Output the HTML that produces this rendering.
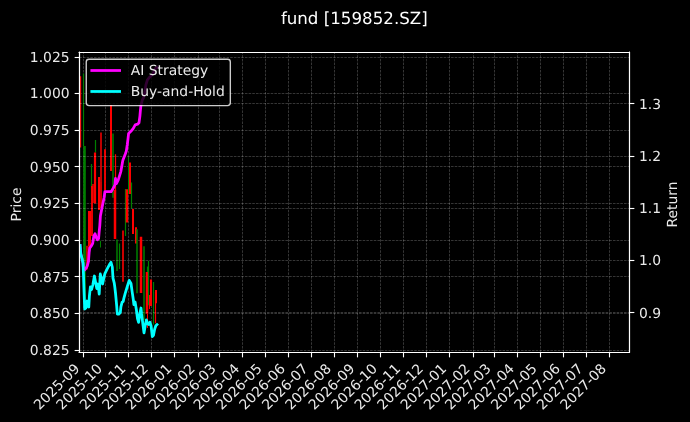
<!DOCTYPE html><html><head><meta charset="utf-8"><style>html,body{margin:0;padding:0;background:#000;width:690px;height:422px;overflow:hidden}svg{display:block;will-change:transform} text{text-rendering:geometricPrecision}</style></head><body><svg width="690" height="422" viewBox="0 0 496.8 303.84" version="1.1"> <defs> <style type="text/css">*{stroke-linejoin: round; stroke-linecap: butt}</style> </defs> <g id="figure_1"> <g id="patch_1"> <path d="M 0 303.84  L 496.8 303.84  L 496.8 0  L 0 0  z "/> </g> <g id="axes_1"> <g id="patch_2"> <path d="M 57.096 253.584  L 453.096 253.584  L 453.096 37.656  L 57.096 37.656  z "/> </g> <g id="matplotlib.axis_1"> <g id="xtick_1"> <g id="line2d_1"> <path d="M 60.1200 253.584 L 60.1200 37.656 " clip-path="url(#pfc3953edeb)" style="fill: none; stroke-dasharray: 1.85,0.8; stroke-dashoffset: 0; stroke: #ffffff; stroke-opacity: 0.3; stroke-width: 0.5"/> </g> <g id="line2d_2"> <g> <path d="M 0 0  L 0 3.5  " transform="translate(60.1200 253.8000)" style="fill: #ffffff; stroke: #ffffff; stroke-width: 0.8"/> </g> </g> <g id="text_1"> <text style="font-size: 10px; font-family: 'DejaVu Sans', sans-serif; fill: #eaeaea" transform="translate(28.403969 295.501817) rotate(-45)">2025-09</text> </g> </g> <g id="xtick_2"> <g id="line2d_3"> <path d="M 75.9600 253.584 L 75.9600 37.656 " clip-path="url(#pfc3953edeb)" style="fill: none; stroke-dasharray: 1.85,0.8; stroke-dashoffset: 0; stroke: #ffffff; stroke-opacity: 0.3; stroke-width: 0.5"/> </g> <g id="line2d_4"> <g> <path d="M 0 0  L 0 3.5  " transform="translate(75.9600 253.8000)" style="fill: #ffffff; stroke: #ffffff; stroke-width: 0.8"/> </g> </g> <g id="text_2"> <text style="font-size: 10px; font-family: 'DejaVu Sans', sans-serif; fill: #eaeaea" transform="translate(44.673305 295.501817) rotate(-45)">2025-10</text> </g> </g> <g id="xtick_3"> <g id="line2d_5"> <path d="M 92.5200 253.584 L 92.5200 37.656 " clip-path="url(#pfc3953edeb)" style="fill: none; stroke-dasharray: 1.85,0.8; stroke-dashoffset: 0; stroke: #ffffff; stroke-opacity: 0.3; stroke-width: 0.5"/> </g> <g id="line2d_6"> <g> <path d="M 0 0  L 0 3.5  " transform="translate(92.5200 253.8000)" style="fill: #ffffff; stroke: #ffffff; stroke-width: 0.8"/> </g> </g> <g id="text_3"> <text style="font-size: 10px; font-family: 'DejaVu Sans', sans-serif; fill: #eaeaea" transform="translate(61.484952 295.501817) rotate(-45)">2025-11</text> </g> </g> <g id="xtick_4"> <g id="line2d_7"> <path d="M 109.0800 253.584 L 109.0800 37.656 " clip-path="url(#pfc3953edeb)" style="fill: none; stroke-dasharray: 1.85,0.8; stroke-dashoffset: 0; stroke: #ffffff; stroke-opacity: 0.3; stroke-width: 0.5"/> </g> <g id="line2d_8"> <g> <path d="M 0 0  L 0 3.5  " transform="translate(109.0800 253.8000)" style="fill: #ffffff; stroke: #ffffff; stroke-width: 0.8"/> </g> </g> <g id="text_4"> <text style="font-size: 10px; font-family: 'DejaVu Sans', sans-serif; fill: #eaeaea" transform="translate(77.754288 295.501817) rotate(-45)">2025-12</text> </g> </g> <g id="xtick_5"> <g id="line2d_9"> <path d="M 125.6400 253.584 L 125.6400 37.656 " clip-path="url(#pfc3953edeb)" style="fill: none; stroke-dasharray: 1.85,0.8; stroke-dashoffset: 0; stroke: #ffffff; stroke-opacity: 0.3; stroke-width: 0.5"/> </g> <g id="line2d_10"> <g> <path d="M 0 0  L 0 3.5  " transform="translate(125.6400 253.8000)" style="fill: #ffffff; stroke: #ffffff; stroke-width: 0.8"/> </g> </g> <g id="text_5"> <text style="font-size: 10px; font-family: 'DejaVu Sans', sans-serif; fill: #eaeaea" transform="translate(94.565935 295.501817) rotate(-45)">2026-01</text> </g> </g> <g id="xtick_6"> <g id="line2d_11"> <path d="M 142.9200 253.584 L 142.9200 37.656 " clip-path="url(#pfc3953edeb)" style="fill: none; stroke-dasharray: 1.85,0.8; stroke-dashoffset: 0; stroke: #ffffff; stroke-opacity: 0.3; stroke-width: 0.5"/> </g> <g id="line2d_12"> <g> <path d="M 0 0  L 0 3.5  " transform="translate(142.9200 253.8000)" style="fill: #ffffff; stroke: #ffffff; stroke-width: 0.8"/> </g> </g> <g id="text_6"> <text style="font-size: 10px; font-family: 'DejaVu Sans', sans-serif; fill: #eaeaea" transform="translate(111.377582 295.501817) rotate(-45)">2026-02</text> </g> </g> <g id="xtick_7"> <g id="line2d_13"> <path d="M 158.0400 253.584 L 158.0400 37.656 " clip-path="url(#pfc3953edeb)" style="fill: none; stroke-dasharray: 1.85,0.8; stroke-dashoffset: 0; stroke: #ffffff; stroke-opacity: 0.3; stroke-width: 0.5"/> </g> <g id="line2d_14"> <g> <path d="M 0 0  L 0 3.5  " transform="translate(158.0400 253.8000)" style="fill: #ffffff; stroke: #ffffff; stroke-width: 0.8"/> </g> </g> <g id="text_7"> <text style="font-size: 10px; font-family: 'DejaVu Sans', sans-serif; fill: #eaeaea" transform="translate(126.562296 295.501817) rotate(-45)">2026-03</text> </g> </g> <g id="xtick_8"> <g id="line2d_15"> <path d="M 174.6000 253.584 L 174.6000 37.656 " clip-path="url(#pfc3953edeb)" style="fill: none; stroke-dasharray: 1.85,0.8; stroke-dashoffset: 0; stroke: #ffffff; stroke-opacity: 0.3; stroke-width: 0.5"/> </g> <g id="line2d_16"> <g> <path d="M 0 0  L 0 3.5  " transform="translate(174.6000 253.8000)" style="fill: #ffffff; stroke: #ffffff; stroke-width: 0.8"/> </g> </g> <g id="text_8"> <text style="font-size: 10px; font-family: 'DejaVu Sans', sans-serif; fill: #eaeaea" transform="translate(143.373943 295.501817) rotate(-45)">2026-04</text> </g> </g> <g id="xtick_9"> <g id="line2d_17"> <path d="M 191.1600 253.584 L 191.1600 37.656 " clip-path="url(#pfc3953edeb)" style="fill: none; stroke-dasharray: 1.85,0.8; stroke-dashoffset: 0; stroke: #ffffff; stroke-opacity: 0.3; stroke-width: 0.5"/> </g> <g id="line2d_18"> <g> <path d="M 0 0  L 0 3.5  " transform="translate(191.1600 253.8000)" style="fill: #ffffff; stroke: #ffffff; stroke-width: 0.8"/> </g> </g> <g id="text_9"> <text style="font-size: 10px; font-family: 'DejaVu Sans', sans-serif; fill: #eaeaea" transform="translate(159.643279 295.501817) rotate(-45)">2026-05</text> </g> </g> <g id="xtick_10"> <g id="line2d_19"> <path d="M 207.7200 253.584 L 207.7200 37.656 " clip-path="url(#pfc3953edeb)" style="fill: none; stroke-dasharray: 1.85,0.8; stroke-dashoffset: 0; stroke: #ffffff; stroke-opacity: 0.3; stroke-width: 0.5"/> </g> <g id="line2d_20"> <g> <path d="M 0 0  L 0 3.5  " transform="translate(207.7200 253.8000)" style="fill: #ffffff; stroke: #ffffff; stroke-width: 0.8"/> </g> </g> <g id="text_10"> <text style="font-size: 10px; font-family: 'DejaVu Sans', sans-serif; fill: #eaeaea" transform="translate(176.454926 295.501817) rotate(-45)">2026-06</text> </g> </g> <g id="xtick_11"> <g id="line2d_21"> <path d="M 224.2800 253.584 L 224.2800 37.656 " clip-path="url(#pfc3953edeb)" style="fill: none; stroke-dasharray: 1.85,0.8; stroke-dashoffset: 0; stroke: #ffffff; stroke-opacity: 0.3; stroke-width: 0.5"/> </g> <g id="line2d_22"> <g> <path d="M 0 0  L 0 3.5  " transform="translate(224.2800 253.8000)" style="fill: #ffffff; stroke: #ffffff; stroke-width: 0.8"/> </g> </g> <g id="text_11"> <text style="font-size: 10px; font-family: 'DejaVu Sans', sans-serif; fill: #eaeaea" transform="translate(192.724262 295.501817) rotate(-45)">2026-07</text> </g> </g> <g id="xtick_12"> <g id="line2d_23"> <path d="M 240.8400 253.584 L 240.8400 37.656 " clip-path="url(#pfc3953edeb)" style="fill: none; stroke-dasharray: 1.85,0.8; stroke-dashoffset: 0; stroke: #ffffff; stroke-opacity: 0.3; stroke-width: 0.5"/> </g> <g id="line2d_24"> <g> <path d="M 0 0  L 0 3.5  " transform="translate(240.8400 253.8000)" style="fill: #ffffff; stroke: #ffffff; stroke-width: 0.8"/> </g> </g> <g id="text_12"> <text style="font-size: 10px; font-family: 'DejaVu Sans', sans-serif; fill: #eaeaea" transform="translate(209.53591 295.501817) rotate(-45)">2026-08</text> </g> </g> <g id="xtick_13"> <g id="line2d_25"> <path d="M 257.4000 253.584 L 257.4000 37.656 " clip-path="url(#pfc3953edeb)" style="fill: none; stroke-dasharray: 1.85,0.8; stroke-dashoffset: 0; stroke: #ffffff; stroke-opacity: 0.3; stroke-width: 0.5"/> </g> <g id="line2d_26"> <g> <path d="M 0 0  L 0 3.5  " transform="translate(257.4000 253.8000)" style="fill: #ffffff; stroke: #ffffff; stroke-width: 0.8"/> </g> </g> <g id="text_13"> <text style="font-size: 10px; font-family: 'DejaVu Sans', sans-serif; fill: #eaeaea" transform="translate(226.347557 295.501817) rotate(-45)">2026-09</text> </g> </g> <g id="xtick_14"> <g id="line2d_27"> <path d="M 273.9600 253.584 L 273.9600 37.656 " clip-path="url(#pfc3953edeb)" style="fill: none; stroke-dasharray: 1.85,0.8; stroke-dashoffset: 0; stroke: #ffffff; stroke-opacity: 0.3; stroke-width: 0.5"/> </g> <g id="line2d_28"> <g> <path d="M 0 0  L 0 3.5  " transform="translate(273.9600 253.8000)" style="fill: #ffffff; stroke: #ffffff; stroke-width: 0.8"/> </g> </g> <g id="text_14"> <text style="font-size: 10px; font-family: 'DejaVu Sans', sans-serif; fill: #eaeaea" transform="translate(242.616893 295.501817) rotate(-45)">2026-10</text> </g> </g> <g id="xtick_15"> <g id="line2d_29"> <path d="M 290.5200 253.584 L 290.5200 37.656 " clip-path="url(#pfc3953edeb)" style="fill: none; stroke-dasharray: 1.85,0.8; stroke-dashoffset: 0; stroke: #ffffff; stroke-opacity: 0.3; stroke-width: 0.5"/> </g> <g id="line2d_30"> <g> <path d="M 0 0  L 0 3.5  " transform="translate(290.5200 253.8000)" style="fill: #ffffff; stroke: #ffffff; stroke-width: 0.8"/> </g> </g> <g id="text_15"> <text style="font-size: 10px; font-family: 'DejaVu Sans', sans-serif; fill: #eaeaea" transform="translate(259.42854 295.501817) rotate(-45)">2026-11</text> </g> </g> <g id="xtick_16"> <g id="line2d_31"> <path d="M 307.0800 253.584 L 307.0800 37.656 " clip-path="url(#pfc3953edeb)" style="fill: none; stroke-dasharray: 1.85,0.8; stroke-dashoffset: 0; stroke: #ffffff; stroke-opacity: 0.3; stroke-width: 0.5"/> </g> <g id="line2d_32"> <g> <path d="M 0 0  L 0 3.5  " transform="translate(307.0800 253.8000)" style="fill: #ffffff; stroke: #ffffff; stroke-width: 0.8"/> </g> </g> <g id="text_16"> <text style="font-size: 10px; font-family: 'DejaVu Sans', sans-serif; fill: #eaeaea" transform="translate(275.697876 295.501817) rotate(-45)">2026-12</text> </g> </g> <g id="xtick_17"> <g id="line2d_33"> <path d="M 323.6400 253.584 L 323.6400 37.656 " clip-path="url(#pfc3953edeb)" style="fill: none; stroke-dasharray: 1.85,0.8; stroke-dashoffset: 0; stroke: #ffffff; stroke-opacity: 0.3; stroke-width: 0.5"/> </g> <g id="line2d_34"> <g> <path d="M 0 0  L 0 3.5  " transform="translate(323.6400 253.8000)" style="fill: #ffffff; stroke: #ffffff; stroke-width: 0.8"/> </g> </g> <g id="text_17"> <text style="font-size: 10px; font-family: 'DejaVu Sans', sans-serif; fill: #eaeaea" transform="translate(292.509523 295.501817) rotate(-45)">2027-01</text> </g> </g> <g id="xtick_18"> <g id="line2d_35"> <path d="M 340.9200 253.584 L 340.9200 37.656 " clip-path="url(#pfc3953edeb)" style="fill: none; stroke-dasharray: 1.85,0.8; stroke-dashoffset: 0; stroke: #ffffff; stroke-opacity: 0.3; stroke-width: 0.5"/> </g> <g id="line2d_36"> <g> <path d="M 0 0  L 0 3.5  " transform="translate(340.9200 253.8000)" style="fill: #ffffff; stroke: #ffffff; stroke-width: 0.8"/> </g> </g> <g id="text_18"> <text style="font-size: 10px; font-family: 'DejaVu Sans', sans-serif; fill: #eaeaea" transform="translate(309.32117 295.501817) rotate(-45)">2027-02</text> </g> </g> <g id="xtick_19"> <g id="line2d_37"> <path d="M 356.0400 253.584 L 356.0400 37.656 " clip-path="url(#pfc3953edeb)" style="fill: none; stroke-dasharray: 1.85,0.8; stroke-dashoffset: 0; stroke: #ffffff; stroke-opacity: 0.3; stroke-width: 0.5"/> </g> <g id="line2d_38"> <g> <path d="M 0 0  L 0 3.5  " transform="translate(356.0400 253.8000)" style="fill: #ffffff; stroke: #ffffff; stroke-width: 0.8"/> </g> </g> <g id="text_19"> <text style="font-size: 10px; font-family: 'DejaVu Sans', sans-serif; fill: #eaeaea" transform="translate(324.505884 295.501817) rotate(-45)">2027-03</text> </g> </g> <g id="xtick_20"> <g id="line2d_39"> <path d="M 372.6000 253.584 L 372.6000 37.656 " clip-path="url(#pfc3953edeb)" style="fill: none; stroke-dasharray: 1.85,0.8; stroke-dashoffset: 0; stroke: #ffffff; stroke-opacity: 0.3; stroke-width: 0.5"/> </g> <g id="line2d_40"> <g> <path d="M 0 0  L 0 3.5  " transform="translate(372.6000 253.8000)" style="fill: #ffffff; stroke: #ffffff; stroke-width: 0.8"/> </g> </g> <g id="text_20"> <text style="font-size: 10px; font-family: 'DejaVu Sans', sans-serif; fill: #eaeaea" transform="translate(341.317531 295.501817) rotate(-45)">2027-04</text> </g> </g> <g id="xtick_21"> <g id="line2d_41"> <path d="M 389.1600 253.584 L 389.1600 37.656 " clip-path="url(#pfc3953edeb)" style="fill: none; stroke-dasharray: 1.85,0.8; stroke-dashoffset: 0; stroke: #ffffff; stroke-opacity: 0.3; stroke-width: 0.5"/> </g> <g id="line2d_42"> <g> <path d="M 0 0  L 0 3.5  " transform="translate(389.1600 253.8000)" style="fill: #ffffff; stroke: #ffffff; stroke-width: 0.8"/> </g> </g> <g id="text_21"> <text style="font-size: 10px; font-family: 'DejaVu Sans', sans-serif; fill: #eaeaea" transform="translate(357.586867 295.501817) rotate(-45)">2027-05</text> </g> </g> <g id="xtick_22"> <g id="line2d_43"> <path d="M 405.7200 253.584 L 405.7200 37.656 " clip-path="url(#pfc3953edeb)" style="fill: none; stroke-dasharray: 1.85,0.8; stroke-dashoffset: 0; stroke: #ffffff; stroke-opacity: 0.3; stroke-width: 0.5"/> </g> <g id="line2d_44"> <g> <path d="M 0 0  L 0 3.5  " transform="translate(405.7200 253.8000)" style="fill: #ffffff; stroke: #ffffff; stroke-width: 0.8"/> </g> </g> <g id="text_22"> <text style="font-size: 10px; font-family: 'DejaVu Sans', sans-serif; fill: #eaeaea" transform="translate(374.398514 295.501817) rotate(-45)">2027-06</text> </g> </g> <g id="xtick_23"> <g id="line2d_45"> <path d="M 422.2800 253.584 L 422.2800 37.656 " clip-path="url(#pfc3953edeb)" style="fill: none; stroke-dasharray: 1.85,0.8; stroke-dashoffset: 0; stroke: #ffffff; stroke-opacity: 0.3; stroke-width: 0.5"/> </g> <g id="line2d_46"> <g> <path d="M 0 0  L 0 3.5  " transform="translate(422.2800 253.8000)" style="fill: #ffffff; stroke: #ffffff; stroke-width: 0.8"/> </g> </g> <g id="text_23"> <text style="font-size: 10px; font-family: 'DejaVu Sans', sans-serif; fill: #eaeaea" transform="translate(390.66785 295.501817) rotate(-45)">2027-07</text> </g> </g> <g id="xtick_24"> <g id="line2d_47"> <path d="M 438.8400 253.584 L 438.8400 37.656 " clip-path="url(#pfc3953edeb)" style="fill: none; stroke-dasharray: 1.85,0.8; stroke-dashoffset: 0; stroke: #ffffff; stroke-opacity: 0.3; stroke-width: 0.5"/> </g> <g id="line2d_48"> <g> <path d="M 0 0  L 0 3.5  " transform="translate(438.8400 253.8000)" style="fill: #ffffff; stroke: #ffffff; stroke-width: 0.8"/> </g> </g> <g id="text_24"> <text style="font-size: 10px; font-family: 'DejaVu Sans', sans-serif; fill: #eaeaea" transform="translate(407.479498 295.501817) rotate(-45)">2027-08</text> </g> </g> </g> <g id="matplotlib.axis_2"> <g id="ytick_1"> <g id="line2d_49"> <path d="M 57.096 252.3600 L 453.096 252.3600 " clip-path="url(#pfc3953edeb)" style="fill: none; stroke-dasharray: 1.85,0.8; stroke-dashoffset: 0; stroke: #ffffff; stroke-opacity: 0.3; stroke-width: 0.5"/> </g> <g id="line2d_50"> <g> <path d="M 0 0  L -3.5 0  " transform="translate(57.2400 252.3600)" style="fill: #ffffff; stroke: #ffffff; stroke-width: 0.8"/> </g> </g> <g id="text_25"> <text style="font-size: 10px; font-family: 'DejaVu Sans', sans-serif; text-anchor: end; fill: #eaeaea" x="50.096" y="255.486019" transform="rotate(-0 50.096 255.486019)">0.825</text> </g> </g> <g id="ytick_2"> <g id="line2d_51"> <path d="M 57.096 225.7200 L 453.096 225.7200 " clip-path="url(#pfc3953edeb)" style="fill: none; stroke-dasharray: 1.85,0.8; stroke-dashoffset: 0; stroke: #ffffff; stroke-opacity: 0.3; stroke-width: 0.5"/> </g> <g id="line2d_52"> <g> <path d="M 0 0  L -3.5 0  " transform="translate(57.2400 225.7200)" style="fill: #ffffff; stroke: #ffffff; stroke-width: 0.8"/> </g> </g> <g id="text_26"> <text style="font-size: 10px; font-family: 'DejaVu Sans', sans-serif; text-anchor: end; fill: #eaeaea" x="50.096" y="229.116019" transform="rotate(-0 50.096 229.116019)">0.850</text> </g> </g> <g id="ytick_3"> <g id="line2d_53"> <path d="M 57.096 199.0800 L 453.096 199.0800 " clip-path="url(#pfc3953edeb)" style="fill: none; stroke-dasharray: 1.85,0.8; stroke-dashoffset: 0; stroke: #ffffff; stroke-opacity: 0.3; stroke-width: 0.5"/> </g> <g id="line2d_54"> <g> <path d="M 0 0  L -3.5 0  " transform="translate(57.2400 199.0800)" style="fill: #ffffff; stroke: #ffffff; stroke-width: 0.8"/> </g> </g> <g id="text_27"> <text style="font-size: 10px; font-family: 'DejaVu Sans', sans-serif; text-anchor: end; fill: #eaeaea" x="50.096" y="202.746019" transform="rotate(-0 50.096 202.746019)">0.875</text> </g> </g> <g id="ytick_4"> <g id="line2d_55"> <path d="M 57.096 173.1600 L 453.096 173.1600 " clip-path="url(#pfc3953edeb)" style="fill: none; stroke-dasharray: 1.85,0.8; stroke-dashoffset: 0; stroke: #ffffff; stroke-opacity: 0.3; stroke-width: 0.5"/> </g> <g id="line2d_56"> <g> <path d="M 0 0  L -3.5 0  " transform="translate(57.2400 173.1600)" style="fill: #ffffff; stroke: #ffffff; stroke-width: 0.8"/> </g> </g> <g id="text_28"> <text style="font-size: 10px; font-family: 'DejaVu Sans', sans-serif; text-anchor: end; fill: #eaeaea" x="50.096" y="176.376019" transform="rotate(-0 50.096 176.376019)">0.900</text> </g> </g> <g id="ytick_5"> <g id="line2d_57"> <path d="M 57.096 146.5200 L 453.096 146.5200 " clip-path="url(#pfc3953edeb)" style="fill: none; stroke-dasharray: 1.85,0.8; stroke-dashoffset: 0; stroke: #ffffff; stroke-opacity: 0.3; stroke-width: 0.5"/> </g> <g id="line2d_58"> <g> <path d="M 0 0  L -3.5 0  " transform="translate(57.2400 146.5200)" style="fill: #ffffff; stroke: #ffffff; stroke-width: 0.8"/> </g> </g> <g id="text_29"> <text style="font-size: 10px; font-family: 'DejaVu Sans', sans-serif; text-anchor: end; fill: #eaeaea" x="50.096" y="150.006019" transform="rotate(-0 50.096 150.006019)">0.925</text> </g> </g> <g id="ytick_6"> <g id="line2d_59"> <path d="M 57.096 119.8800 L 453.096 119.8800 " clip-path="url(#pfc3953edeb)" style="fill: none; stroke-dasharray: 1.85,0.8; stroke-dashoffset: 0; stroke: #ffffff; stroke-opacity: 0.3; stroke-width: 0.5"/> </g> <g id="line2d_60"> <g> <path d="M 0 0  L -3.5 0  " transform="translate(57.2400 119.8800)" style="fill: #ffffff; stroke: #ffffff; stroke-width: 0.8"/> </g> </g> <g id="text_30"> <text style="font-size: 10px; font-family: 'DejaVu Sans', sans-serif; text-anchor: end; fill: #eaeaea" x="50.096" y="123.636019" transform="rotate(-0 50.096 123.636019)">0.950</text> </g> </g> <g id="ytick_7"> <g id="line2d_61"> <path d="M 57.096 93.9600 L 453.096 93.9600 " clip-path="url(#pfc3953edeb)" style="fill: none; stroke-dasharray: 1.85,0.8; stroke-dashoffset: 0; stroke: #ffffff; stroke-opacity: 0.3; stroke-width: 0.5"/> </g> <g id="line2d_62"> <g> <path d="M 0 0  L -3.5 0  " transform="translate(57.2400 93.9600)" style="fill: #ffffff; stroke: #ffffff; stroke-width: 0.8"/> </g> </g> <g id="text_31"> <text style="font-size: 10px; font-family: 'DejaVu Sans', sans-serif; text-anchor: end; fill: #eaeaea" x="50.096" y="97.266019" transform="rotate(-0 50.096 97.266019)">0.975</text> </g> </g> <g id="ytick_8"> <g id="line2d_63"> <path d="M 57.096 67.3200 L 453.096 67.3200 " clip-path="url(#pfc3953edeb)" style="fill: none; stroke-dasharray: 1.85,0.8; stroke-dashoffset: 0; stroke: #ffffff; stroke-opacity: 0.3; stroke-width: 0.5"/> </g> <g id="line2d_64"> <g> <path d="M 0 0  L -3.5 0  " transform="translate(57.2400 67.3200)" style="fill: #ffffff; stroke: #ffffff; stroke-width: 0.8"/> </g> </g> <g id="text_32"> <text style="font-size: 10px; font-family: 'DejaVu Sans', sans-serif; text-anchor: end; fill: #eaeaea" x="50.096" y="70.896019" transform="rotate(-0 50.096 70.896019)">1.000</text> </g> </g> <g id="ytick_9"> <g id="line2d_65"> <path d="M 57.096 41.4000 L 453.096 41.4000 " clip-path="url(#pfc3953edeb)" style="fill: none; stroke-dasharray: 1.85,0.8; stroke-dashoffset: 0; stroke: #ffffff; stroke-opacity: 0.3; stroke-width: 0.5"/> </g> <g id="line2d_66"> <g> <path d="M 0 0  L -3.5 0  " transform="translate(57.2400 41.4000)" style="fill: #ffffff; stroke: #ffffff; stroke-width: 0.8"/> </g> </g> <g id="text_33"> <text style="font-size: 10px; font-family: 'DejaVu Sans', sans-serif; text-anchor: end; fill: #eaeaea" x="50.096" y="44.526019" transform="rotate(-0 50.096 44.526019)">1.025</text> </g> </g> <g id="text_34"> <text style="font-size: 10px; font-family: 'DejaVu Sans', sans-serif; text-anchor: middle; fill: #eaeaea" x="15.388187" y="147.204" transform="rotate(-90 15.388187 147.204)">Price</text> </g> </g> <g id="LineCollection_1"> <path d="M 57.9600 106.2 L 57.9600 54.936 " clip-path="url(#pfc3953edeb)" style="fill: none; stroke: #ff0000; stroke-width: 1.008"/> </g> <g id="LineCollection_2"> <path d="M 60.1200 105.12 L 60.1200 52.92 " clip-path="url(#pfc3953edeb)" style="fill: none; stroke: #008000; stroke-width: 0.864"/> </g> <g id="LineCollection_3"> <path d="M 60.8400 216 L 60.8400 105.12 " clip-path="url(#pfc3953edeb)" style="fill: none; stroke: #008000; stroke-width: 1.872"/> </g> <g id="LineCollection_4"> <path d="M 62.6400 193.968 L 62.6400 176.904 " clip-path="url(#pfc3953edeb)" style="fill: none; stroke: #ff0000; stroke-width: 1.08"/> </g> <g id="LineCollection_5"> <path d="M 64.4400 177.12 L 64.4400 151.92 " clip-path="url(#pfc3953edeb)" style="fill: none; stroke: #ff0000; stroke-width: 2.16"/> </g> <g id="LineCollection_6"> <path d="M 64.0800 188.64 L 64.0800 177.12 " clip-path="url(#pfc3953edeb)" style="fill: none; stroke: #ff0000; stroke-width: 1.08"/> </g> <g id="LineCollection_7"> <path d="M 65.8800 144 L 65.8800 118.08 " clip-path="url(#pfc3953edeb)" style="fill: none; stroke: #008000; stroke-width: 0.864"/> </g> <g id="LineCollection_8"> <path d="M 66.2400 169.92 L 66.2400 133.92 " clip-path="url(#pfc3953edeb)" style="fill: none; stroke: #ff0000; stroke-width: 1.296"/> </g> <g id="LineCollection_9"> <path d="M 66.9600 146.16 L 66.9600 132.48 " clip-path="url(#pfc3953edeb)" style="fill: none; stroke: #ff0000; stroke-width: 1.08"/> </g> <g id="LineCollection_10"> <path d="M 68.7600 109.8 L 68.7600 100.8 " clip-path="url(#pfc3953edeb)" style="fill: none; stroke: #008000; stroke-width: 0.864"/> </g> <g id="LineCollection_11"> <path d="M 68.4000 146.448 L 68.4000 109.8 " clip-path="url(#pfc3953edeb)" style="fill: none; stroke: #ff0000; stroke-width: 1.584"/> </g> <g id="LineCollection_12"> <path d="M 71.2800 151.2 L 71.2800 127.44 " clip-path="url(#pfc3953edeb)" style="fill: none; stroke: #ff0000; stroke-width: 1.44"/> </g> <g id="LineCollection_13"> <path d="M 72.7200 131.04 L 72.7200 95.4 " clip-path="url(#pfc3953edeb)" style="fill: none; stroke: #ff0000; stroke-width: 1.08"/> </g> <g id="LineCollection_14"> <path d="M 72.7200 149.76 L 72.7200 131.04 " clip-path="url(#pfc3953edeb)" style="fill: none; stroke: #ff0000; stroke-width: 1.152"/> </g> <g id="LineCollection_15"> <path d="M 75.6000 137.232 L 75.6000 107.424 " clip-path="url(#pfc3953edeb)" style="fill: none; stroke: #ff0000; stroke-width: 1.296"/> </g> <g id="LineCollection_16"> <path d="M 72.3600 178.2 L 72.3600 173.52 " clip-path="url(#pfc3953edeb)" style="fill: none; stroke: #008000; stroke-width: 0.72"/> </g> <g id="LineCollection_17"> <path d="M 79.9200 123.12 L 79.9200 75.6 " clip-path="url(#pfc3953edeb)" style="fill: none; stroke: #ff0000; stroke-width: 1.44"/> </g> <g id="LineCollection_18"> <path d="M 81.3600 142.344 L 81.3600 96.12 " clip-path="url(#pfc3953edeb)" style="fill: none; stroke: #008000; stroke-width: 1.08"/> </g> <g id="LineCollection_19"> <path d="M 83.1600 136.8 L 83.1600 111.024 " clip-path="url(#pfc3953edeb)" style="fill: none; stroke: #ff0000; stroke-width: 0.864"/> </g> <g id="LineCollection_20"> <path d="M 82.8000 172.08 L 82.8000 136.8 " clip-path="url(#pfc3953edeb)" style="fill: none; stroke: #ff0000; stroke-width: 1.8"/> </g> <g id="LineCollection_21"> <path d="M 84.2400 195.12 L 84.2400 172.512 " clip-path="url(#pfc3953edeb)" style="fill: none; stroke: #008000; stroke-width: 1.08"/> </g> <g id="LineCollection_22"> <path d="M 86.0400 193.68 L 86.0400 175.248 " clip-path="url(#pfc3953edeb)" style="fill: none; stroke: #008000; stroke-width: 0.864"/> </g> <g id="LineCollection_23"> <path d="M 88.5600 202.824 L 88.5600 166.032 " clip-path="url(#pfc3953edeb)" style="fill: none; stroke: #ff0000; stroke-width: 1.152"/> </g> <g id="LineCollection_24"> <path d="M 90.3600 169.92 L 90.3600 136.08 " clip-path="url(#pfc3953edeb)" style="fill: none; stroke: #008000; stroke-width: 0.864"/> </g> <g id="LineCollection_25"> <path d="M 91.4400 160.272 L 91.4400 136.224 " clip-path="url(#pfc3953edeb)" style="fill: none; stroke: #ff0000; stroke-width: 1.8"/> </g> <g id="LineCollection_26"> <path d="M 92.5200 139.68 L 92.5200 113.04 " clip-path="url(#pfc3953edeb)" style="fill: none; stroke: #008000; stroke-width: 0.72"/> </g> <g id="LineCollection_27"> <path d="M 93.6000 139.68 L 93.6000 117 " clip-path="url(#pfc3953edeb)" style="fill: none; stroke: #ff0000; stroke-width: 1.44"/> </g> <g id="LineCollection_28"> <path d="M 94.6800 149.904 L 94.6800 131.472 " clip-path="url(#pfc3953edeb)" style="fill: none; stroke: #008000; stroke-width: 0.864"/> </g> <g id="LineCollection_29"> <path d="M 95.7600 168.48 L 95.7600 150.48 " clip-path="url(#pfc3953edeb)" style="fill: none; stroke: #ff0000; stroke-width: 1.44"/> </g> <g id="LineCollection_30"> <path d="M 97.9200 175.248 L 97.9200 163.656 " clip-path="url(#pfc3953edeb)" style="fill: none; stroke: #ff0000; stroke-width: 1.44"/> </g> <g id="LineCollection_31"> <path d="M 98.6400 211.176 L 98.6400 165.024 " clip-path="url(#pfc3953edeb)" style="fill: none; stroke: #008000; stroke-width: 1.08"/> </g> <g id="LineCollection_32"> <path d="M 101.5200 210.96 L 101.5200 170.496 " clip-path="url(#pfc3953edeb)" style="fill: none; stroke: #ff0000; stroke-width: 1.8"/> </g> <g id="LineCollection_33"> <path d="M 103.6800 230.4 L 103.6800 177.336 " clip-path="url(#pfc3953edeb)" style="fill: none; stroke: #008000; stroke-width: 1.08"/> </g> <g id="LineCollection_34"> <path d="M 106.2000 216 L 106.2000 191.952 " clip-path="url(#pfc3953edeb)" style="fill: none; stroke: #008000; stroke-width: 0.864"/> </g> <g id="LineCollection_35"> <path d="M 105.8400 225.864 L 105.8400 195.84 " clip-path="url(#pfc3953edeb)" style="fill: none; stroke: #ff0000; stroke-width: 1.8"/> </g> <g id="LineCollection_36"> <path d="M 106.2000 236.16 L 106.2000 225.864 " clip-path="url(#pfc3953edeb)" style="fill: none; stroke: #ff0000; stroke-width: 0.72"/> </g> <g id="LineCollection_37"> <path d="M 106.9200 219.744 L 106.9200 187.704 " clip-path="url(#pfc3953edeb)" style="fill: none; stroke: #008000; stroke-width: 0.864"/> </g> <g id="LineCollection_38"> <path d="M 107.6400 222.48 L 107.6400 212.4 " clip-path="url(#pfc3953edeb)" style="fill: none; stroke: #ff0000; stroke-width: 0.72"/> </g> <g id="LineCollection_39"> <path d="M 108.7200 220.32 L 108.7200 201.312 " clip-path="url(#pfc3953edeb)" style="fill: none; stroke: #ff0000; stroke-width: 1.44"/> </g> <g id="LineCollection_40"> <path d="M 110.5200 233.712 L 110.5200 203.04 " clip-path="url(#pfc3953edeb)" style="fill: none; stroke: #008000; stroke-width: 0.864"/> </g> <g id="LineCollection_41"> <path d="M 111.9600 232.704 L 111.9600 210.168 " clip-path="url(#pfc3953edeb)" style="fill: none; stroke: #ff0000; stroke-width: 0.864"/> </g> <g id="LineCollection_42"> <path d="M 112.3200 218.376 L 112.3200 208.8 " clip-path="url(#pfc3953edeb)" style="fill: none; stroke: #ff0000; stroke-width: 1.44"/> </g> <g id="patch_3"> <path d="M 57.2400 253.584 L 57.2400 37.656 " style="fill: none; stroke: #ffffff; stroke-width: 0.8; stroke-linejoin: miter; stroke-linecap: square"/> </g> <g id="patch_4"> <path d="M 453.2400 253.584 L 453.2400 37.656 " style="fill: none; stroke: #ffffff; stroke-width: 0.8; stroke-linejoin: miter; stroke-linecap: square"/> </g> <g id="patch_5"> <path d="M 57.096 253.8000 L 453.096 253.8000 " style="fill: none; stroke: #ffffff; stroke-width: 0.8; stroke-linejoin: miter; stroke-linecap: square"/> </g> <g id="patch_6"> <path d="M 57.096 37.8000 L 453.096 37.8000 " style="fill: none; stroke: #ffffff; stroke-width: 0.8; stroke-linejoin: miter; stroke-linecap: square"/> </g> <g id="text_35"> <text style="font-size: 12px; font-family: 'DejaVu Sans', sans-serif; text-anchor: middle; fill: #ffffff" x="255.096" y="17.256012" transform="rotate(-0 255.096 17.256012)">fund [159852.SZ]</text> </g> </g> <g id="axes_2"> <g id="matplotlib.axis_3"> <g id="ytick_10"> <g id="line2d_67"> <path d="M 57.096 225.0000 L 453.096 225.0000 " clip-path="url(#pfb00fdd765)" style="fill: none; stroke-dasharray: 1.85,0.8; stroke-dashoffset: 0; stroke: #ffffff; stroke-opacity: 0.3; stroke-width: 0.5"/> </g> <g id="line2d_68"> <g> <path d="M 0 0  L 3.5 0  " transform="translate(453.2400 225.0000)" style="fill: #ffffff; stroke: #ffffff; stroke-width: 0.8"/> </g> </g> <g id="text_36"> <text style="font-size: 10px; font-family: 'DejaVu Sans', sans-serif; text-anchor: start; fill: #eaeaea" x="460.096" y="228.709219" transform="rotate(-0 460.096 228.709219)">0.9</text> </g> </g> <g id="ytick_11"> <g id="line2d_69"> <path d="M 57.096 187.5600 L 453.096 187.5600 " clip-path="url(#pfb00fdd765)" style="fill: none; stroke-dasharray: 1.85,0.8; stroke-dashoffset: 0; stroke: #ffffff; stroke-opacity: 0.3; stroke-width: 0.5"/> </g> <g id="line2d_70"> <g> <path d="M 0 0  L 3.5 0  " transform="translate(453.2400 187.5600)" style="fill: #ffffff; stroke: #ffffff; stroke-width: 0.8"/> </g> </g> <g id="text_37"> <text style="font-size: 10px; font-family: 'DejaVu Sans', sans-serif; text-anchor: start; fill: #eaeaea" x="460.096" y="191.089219" transform="rotate(-0 460.096 191.089219)">1.0</text> </g> </g> <g id="ytick_12"> <g id="line2d_71"> <path d="M 57.096 150.1200 L 453.096 150.1200 " clip-path="url(#pfb00fdd765)" style="fill: none; stroke-dasharray: 1.85,0.8; stroke-dashoffset: 0; stroke: #ffffff; stroke-opacity: 0.3; stroke-width: 0.5"/> </g> <g id="line2d_72"> <g> <path d="M 0 0  L 3.5 0  " transform="translate(453.2400 150.1200)" style="fill: #ffffff; stroke: #ffffff; stroke-width: 0.8"/> </g> </g> <g id="text_38"> <text style="font-size: 10px; font-family: 'DejaVu Sans', sans-serif; text-anchor: start; fill: #eaeaea" x="460.096" y="153.469219" transform="rotate(-0 460.096 153.469219)">1.1</text> </g> </g> <g id="ytick_13"> <g id="line2d_73"> <path d="M 57.096 112.6800 L 453.096 112.6800 " clip-path="url(#pfb00fdd765)" style="fill: none; stroke-dasharray: 1.85,0.8; stroke-dashoffset: 0; stroke: #ffffff; stroke-opacity: 0.3; stroke-width: 0.5"/> </g> <g id="line2d_74"> <g> <path d="M 0 0  L 3.5 0  " transform="translate(453.2400 112.6800)" style="fill: #ffffff; stroke: #ffffff; stroke-width: 0.8"/> </g> </g> <g id="text_39"> <text style="font-size: 10px; font-family: 'DejaVu Sans', sans-serif; text-anchor: start; fill: #eaeaea" x="460.096" y="115.849219" transform="rotate(-0 460.096 115.849219)">1.2</text> </g> </g> <g id="ytick_14"> <g id="line2d_75"> <path d="M 57.096 74.5200 L 453.096 74.5200 " clip-path="url(#pfb00fdd765)" style="fill: none; stroke-dasharray: 1.85,0.8; stroke-dashoffset: 0; stroke: #ffffff; stroke-opacity: 0.3; stroke-width: 0.5"/> </g> <g id="line2d_76"> <g> <path d="M 0 0  L 3.5 0  " transform="translate(453.2400 74.5200)" style="fill: #ffffff; stroke: #ffffff; stroke-width: 0.8"/> </g> </g> <g id="text_40"> <text style="font-size: 10px; font-family: 'DejaVu Sans', sans-serif; text-anchor: start; fill: #eaeaea" x="460.096" y="78.229219" transform="rotate(-0 460.096 78.229219)">1.3</text> </g> </g> <g id="text_41"> <text style="font-size: 10px; font-family: 'DejaVu Sans', sans-serif; text-anchor: middle; fill: #eaeaea" x="487.597562" y="147.204" transform="rotate(-90 487.597562 147.204)">Return</text> </g> </g> <g id="line2d_77"> <path d="M 57.672 176.76  L 58.176 182.88  L 59.04 186.12  L 59.76 189.36  L 60.048 192.96  L 60.84 194.4  L 61.992 193.104  L 62.856 191.376  L 63.72 187.992  L 64.152 182.016  L 64.584 178.632  L 65.88 176.904  L 66.744 175.176  L 67.536 170.064  L 68.4 168.336  L 69.264 170.928  L 70.128 172.656  L 70.992 171.792  L 71.424 166.68  L 71.856 162.432  L 72.288 155.52  L 73.584 148.896  L 74.88 142.56  L 75.528 138.024  L 79.992 138.024  L 81.936 134.856  L 82.8 132.84  L 83.16 128.448  L 83.808 132.264  L 85.104 129.744  L 87.048 123.336  L 88.416 115.56  L 90.144 111.096  L 90.936 108.792  L 91.656 104.04  L 92.16 99.936  L 92.592 96.12  L 94.248 94.536  L 95.976 92.448  L 97.344 89.856  L 99 89.424  L 100.08 88.344  L 100.728 83.592  L 101.088 79.488  L 101.448 76.104  L 102.456 72  L 103.392 70.416  L 104.328 66.168  L 105.048 61.128  L 106.128 57.528  L 107.928 55.368  L 110.088 53.208  L 111.528 49.68  L 113.04 48.6  " clip-path="url(#pfb00fdd765)" style="fill: none; stroke: #ff00ff; stroke-width: 2; stroke-linecap: square"/> </g> <g id="line2d_78"> <path d="M 57.672 176.76  L 58.176 182.88  L 59.04 186.12  L 59.76 189.36  L 60.12 198  L 60.48 208.8  L 60.984 222.48  L 61.848 221.76  L 62.712 216.72  L 63.216 220.32  L 63.936 221.04  L 64.368 213.12  L 65.088 206.64  L 65.952 208.44  L 66.816 205.2  L 67.968 198.72  L 68.832 203.4  L 69.696 207.792  L 70.272 204.48  L 70.848 206.64  L 71.424 211.68  L 72.216 197.28  L 73.008 200.16  L 73.872 204.48  L 74.736 200.304  L 75.528 196.992  L 77.184 193.608  L 78.912 190.296  L 79.92 188.856  L 80.856 192.24  L 81.36 200.304  L 82.224 203.616  L 82.656 206.64  L 83.16 210.96  L 84.024 220.32  L 84.456 226.08  L 85.752 226.08  L 86.616 225  L 87.048 220.896  L 87.912 217.512  L 88.704 217.08  L 89.136 214.992  L 90.144 211.176  L 91.44 207  L 93.024 201.888  L 94.32 204.12  L 95.184 210.312  L 95.976 215.64  L 96.408 219.24  L 97.272 217.512  L 98.136 222.624  L 99 229.464  L 99.792 232.056  L 100.656 226.08  L 101.52 221.76  L 101.952 226.08  L 102.816 232.848  L 103.68 239.688  L 104.544 234.576  L 105.408 230.328  L 106.2 232.848  L 107.064 233.712  L 107.928 232.056  L 108.792 234.576  L 109.656 242.28  L 110.52 241.416  L 111.312 237.168  L 112.176 234.576  L 113.04 233.712  " clip-path="url(#pfb00fdd765)" style="fill: none; stroke: #00ffff; stroke-width: 2; stroke-linecap: square"/> </g> <g id="patch_7"> <path d="M 57.2400 253.584 L 57.2400 37.656 " style="fill: none; stroke: #ffffff; stroke-width: 0.8; stroke-linejoin: miter; stroke-linecap: square"/> </g> <g id="patch_8"> <path d="M 453.2400 253.584 L 453.2400 37.656 " style="fill: none; stroke: #ffffff; stroke-width: 0.8; stroke-linejoin: miter; stroke-linecap: square"/> </g> <g id="patch_9"> <path d="M 57.096 253.8000 L 453.096 253.8000 " style="fill: none; stroke: #ffffff; stroke-width: 0.8; stroke-linejoin: miter; stroke-linecap: square"/> </g> <g id="patch_10"> <path d="M 57.096 37.8000 L 453.096 37.8000 " style="fill: none; stroke: #ffffff; stroke-width: 0.8; stroke-linejoin: miter; stroke-linecap: square"/> </g> <g id="legend_1"> <g id="patch_11"> <path d="M 64.0960 76.0182 L 163.8335 76.0182 Q 165.8335 76.0182 165.8335 74.0182 L 165.8335 44.6560 Q 165.8335 42.6560 163.8335 42.6560 L 64.0960 42.6560 Q 62.0960 42.6560 62.0960 44.6560 L 62.0960 74.0182 Q 62.0960 76.0182 64.0960 76.0182 z" style="opacity: 0.8; stroke: #ffffff; stroke-linejoin: miter"/> </g> <g id="line2d_79"> <path d="M 66.096 50.754437  L 76.096 50.754437  L 86.096 50.754437  " style="fill: none; stroke: #ff00ff; stroke-width: 2; stroke-linecap: square"/> </g> <g id="text_42"> <text style="font-size: 10px; font-family: 'DejaVu Sans', sans-serif; text-anchor: start; fill: #eaeaea" x="94.096" y="54.254437" transform="rotate(-0 94.096 54.254437)">AI Strategy</text> </g> <g id="line2d_80"> <path d="M 66.096 65.862562  L 76.096 65.862562  L 86.096 65.862562  " style="fill: none; stroke: #00ffff; stroke-width: 2; stroke-linecap: square"/> </g> <g id="text_43"> <text style="font-size: 10px; font-family: 'DejaVu Sans', sans-serif; text-anchor: start; fill: #eaeaea" x="94.096" y="69.362562" transform="rotate(-0 94.096 69.362562)">Buy-and-Hold</text> </g> </g> </g> </g> <defs> <clipPath id="pfc3953edeb"> <rect x="57.096" y="37.656" width="396" height="215.928"/> </clipPath> <clipPath id="pfb00fdd765"> <rect x="57.096" y="37.656" width="396" height="215.928"/> </clipPath> </defs> </svg> </body></html>
